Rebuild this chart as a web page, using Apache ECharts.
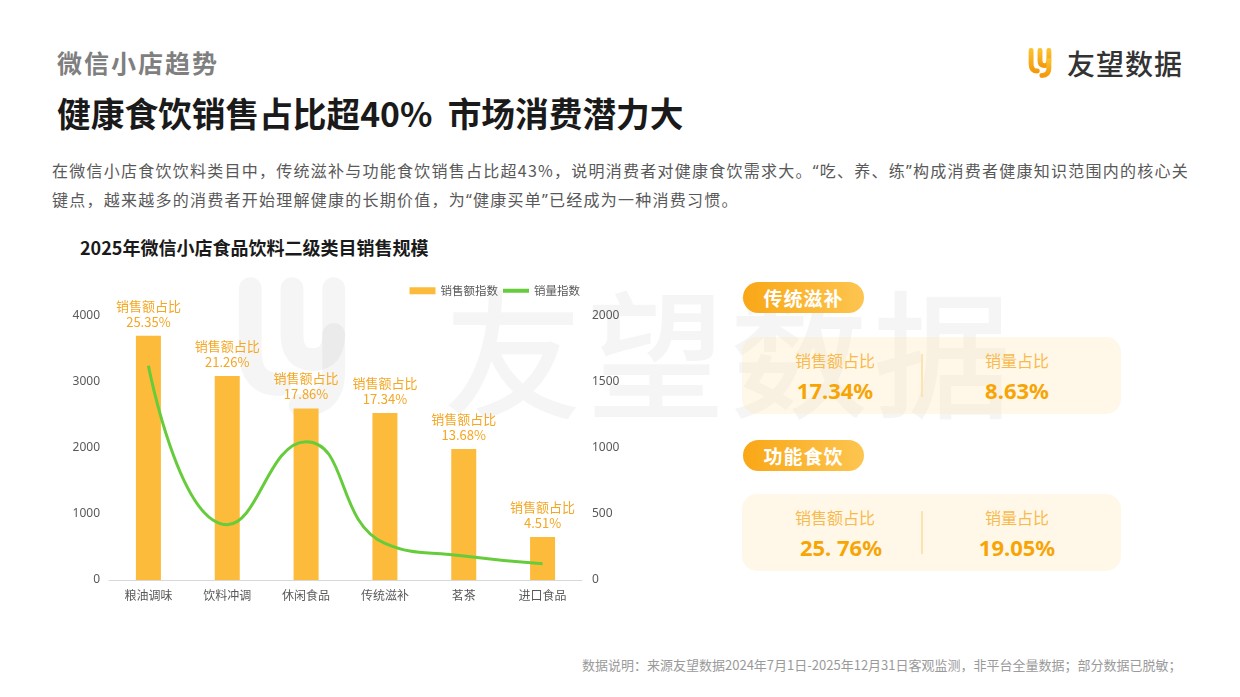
<!DOCTYPE html>
<html><head><meta charset="utf-8">
<script src="https://cdn.jsdelivr.net/npm/echarts@6/dist/echarts.min.js"></script>
<style>
html,body{margin:0;padding:0;width:1240px;height:697px;overflow:hidden;background:#fff;font-family:"Noto Sans CJK SC","Noto Sans",sans-serif;}
.abs{position:absolute;white-space:nowrap;}
.q{font-family:"Noto Sans",sans-serif;}
#wm{left:444px;top:272px;font-size:138px;font-weight:500;color:rgba(0,0,0,0.04);letter-spacing:5px;line-height:150px;z-index:0;}
#chart{position:absolute;left:0;top:232px;width:700px;height:400px;z-index:1;}
.pill{position:absolute;width:121px;height:31px;border-radius:16px;background:linear-gradient(90deg,#f9a716,#fdc550);color:#fff;font-weight:700;font-size:19px;line-height:31px;text-align:center;z-index:3;letter-spacing:1px;}
.card{position:absolute;left:742px;width:379px;height:77px;border-radius:15px;background:rgba(255,236,190,0.35);z-index:2;}
.card .lab{position:absolute;top:13px;font-size:16px;color:#f8ba4e;width:180px;text-align:center;line-height:20px;}
.card .val{position:absolute;top:39px;font-size:22px;color:#f7a506;font-weight:700;width:180px;text-align:center;line-height:28px;font-family:"Noto Sans","Noto Sans CJK SC",sans-serif;}
.card .div{position:absolute;left:179px;top:17px;width:2px;height:43px;background:#fde3b0;}
</style>
</head><body>
<div class="abs" id="wm">友望数据</div>
<svg class="abs" style="left:222px;top:272px;z-index:0" width="140" height="150" viewBox="0 0 30 36">
  <g fill="none" stroke="rgba(0,0,0,0.04)" stroke-width="5.5" stroke-linecap="round">
    <path d="M5 4 L5 19 Q5 27 12 27"/><path d="M15 4 L15 15 Q15 21 20 21 Q25 21 25 15 L25 4"/><path d="M25 15 L25 24 Q25 32 17 32"/>
  </g>
</svg>

<div class="abs" style="left:57px;top:44px;font-size:25px;font-weight:700;color:#7f7f7f;line-height:36px;letter-spacing:2px;">微信小店趋势</div>
<div class="abs" style="left:57px;top:91px;font-size:33.7px;font-weight:700;color:#1a1a1a;line-height:44px;">健康食饮销售占比超40%&nbsp;&nbsp;市场消费潜力大</div>
<div class="abs" style="left:52px;top:156px;font-size:16px;color:#595959;line-height:28px;letter-spacing:1.25px;">在微信小店食饮饮料类目中，传统滋补与功能食饮销售占比超43%，说明消费者对健康食饮需求大。<span class="q">“</span>吃、养、练<span class="q">”</span>构成消费者健康知识范围内的核心关<br>键点，越来越多的消费者开始理解健康的长期价值，为<span class="q">“</span>健康买单<span class="q">”</span>已经成为一种消费习惯。</div>

<svg class="abs" style="left:1024px;top:47px" width="32" height="32" viewBox="0 0 30 36">
  <defs><linearGradient id="lg" x1="0" y1="0" x2="0" y2="1"><stop offset="0" stop-color="#fbc02d"/><stop offset="1" stop-color="#f59a0c"/></linearGradient></defs>
  <g fill="none" stroke="url(#lg)" stroke-width="5.5" stroke-linecap="round">
    <path d="M5 4 L5 19 Q5 27 12 27"/><path d="M15 4 L15 15 Q15 21 20 21 Q25 21 25 15 L25 4"/><path d="M25 15 L25 24 Q25 32 17 32"/>
  </g>
</svg>
<div class="abs" style="left:1067px;top:45px;font-size:28px;font-weight:500;color:#333;line-height:36px;letter-spacing:1px;">友望数据</div>

<div class="abs" style="left:80px;top:234px;font-size:18px;font-weight:700;color:#1a1a1a;line-height:26px;">2025年微信小店食品饮料二级类目销售规模</div>

<div id="chart"></div>
<div id="cards"></div>

<div class="abs" style="left:582px;top:656px;font-size:13px;color:#9a9a9a;line-height:18px;">数据说明：来源友望数据2024年7月1日-2025年12月31日客观监测，非平台全量数据；部分数据已脱敏；</div>

<script>
const categories = ['粮油调味','饮料冲调','休闲食品','传统滋补','茗茶','进口食品'];
const salesIndex = [3700, 3090, 2600, 2530, 1985, 650];
const volumeIndex = [1623, 419, 1048, 278, 182, 124];
const salesShare = ['25.35%','21.26%','17.86%','17.34%','13.68%','4.51%'];
const leftTicks = [0, 1000, 2000, 3000, 4000];
const rightTicks = [0, 500, 1000, 1500, 2000];

const cardTitles = ['传统滋补','功能食饮'];
const cardSalesShare = ['17.34%','25. 76%'];
const cardVolumeShare = ['8.63%','19.05%'];

// cards
const pillTops = [282, 440];
const cardTops = [337, 494];
const cards = document.getElementById('cards');
cardTitles.forEach((t, i) => {
  const p = document.createElement('div');
  p.className = 'pill'; p.style.left = '743px'; p.style.top = pillTops[i] + 'px'; p.textContent = t;
  cards.appendChild(p);
  const c = document.createElement('div');
  c.className = 'card'; c.style.top = cardTops[i] + 'px';
  c.innerHTML = '<div class="lab" style="left:3px">销售额占比</div>' +
    '<div class="val" style="left:' + (i === 1 ? 9 : 3) + 'px">' + cardSalesShare[i] + '</div>' +
    '<div class="div"></div>' +
    '<div class="lab" style="left:185px">销量占比</div>' +
    '<div class="val" style="left:185px">' + cardVolumeShare[i] + '</div>';
  cards.appendChild(c);
});

const chart = echarts.init(document.getElementById('chart'), null, {renderer: 'canvas'});
const axisLabel = {color: '#595959', fontSize: 12, fontFamily: 'Noto Sans, sans-serif', formatter: v => String(v)};
chart.setOption({
  animation: false,
  textStyle: {fontFamily: 'Noto Sans CJK SC, sans-serif'},
  legend: {
    right: 115, top: 48, itemWidth: 26, itemHeight: 7, itemGap: 3,
    textStyle: {color: '#595959', fontSize: 11.5},
    data: [{name: '销售额指数', icon: 'rect'},
           {name: '销量指数', itemStyle: {opacity: 0}, lineStyle: {width: 4}}]
  },
  grid: {left: 109, right: 118, top: 84, bottom: 52},
  xAxis: {
    type: 'category', data: categories,
    axisLine: {lineStyle: {color: '#d9d9d9', width: 1}},
    axisTick: {show: false},
    axisLabel: {margin: 9, color: '#595959', fontSize: 12, fontFamily: 'Noto Sans CJK SC, sans-serif'}
  },
  yAxis: [
    {type: 'value', min: leftTicks[0], max: leftTicks[leftTicks.length - 1], interval: leftTicks[1] - leftTicks[0],
     splitLine: {show: false}, axisLine: {show: false}, axisTick: {show: false},
     axisLabel: Object.assign({margin: 9}, axisLabel)},
    {type: 'value', min: rightTicks[0], max: rightTicks[rightTicks.length - 1], interval: rightTicks[1] - rightTicks[0],
     splitLine: {show: false}, axisLine: {show: false}, axisTick: {show: false},
     axisLabel: Object.assign({margin: 10}, axisLabel)}
  ],
  series: [
    {
      name: '销售额指数', type: 'bar', data: salesIndex, barWidth: 25,
      itemStyle: {color: '#fdbb3b'},
      label: {
        show: true, position: 'top', distance: 6, color: '#f5a623', fontSize: 13, lineHeight: 16,
        formatter: p => '销售额占比\n' + salesShare[p.dataIndex]
      }
    },
    {
      name: '销量指数', type: 'line', yAxisIndex: 1, data: volumeIndex, smooth: 0.5,
      symbol: 'none', lineStyle: {color: '#66cc3c', width: 3}, itemStyle: {color: '#66cc3c'}
    }
  ]
});
</script>
</body></html>
